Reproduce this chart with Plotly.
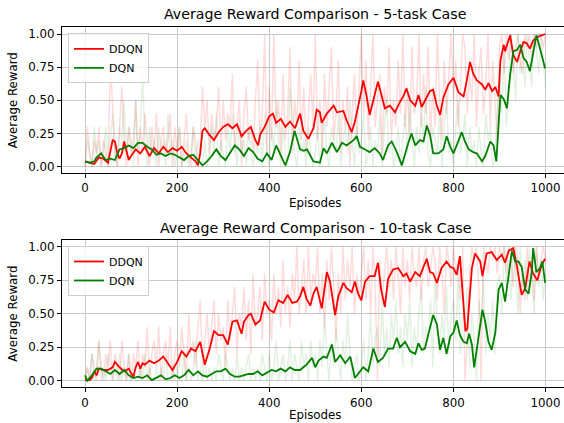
import plotly.graph_objects as go

# ---- 5-task case: smoothed curves (episode, reward) ----
ddqn5_ep = [0, 10, 20, 30, 40, 50, 55, 60, 65, 70, 75, 80, 85, 90, 95, 100, 110, 120, 130, 140,
            150, 160, 170, 180, 190, 200, 210, 220, 230, 240, 245, 250, 255, 260, 270, 280, 290, 300,
            310, 320, 330, 340, 350, 360, 370, 376, 380, 390, 400, 408, 415, 425, 435, 445, 456, 467,
            474, 485, 496, 503, 510, 514, 525, 540, 547, 561, 568, 579, 586, 593, 600, 604, 611, 618,
            625, 636, 643, 651, 662, 673, 684, 691, 698, 706, 717, 724, 731, 742, 749, 756, 764, 771,
            778, 789, 800, 811, 822, 829, 836, 843, 851, 862, 869, 876, 884, 891, 898, 902, 909, 912,
            923, 930, 938, 945, 952, 959, 966, 973, 984, 999]
ddqn5_val = [0.04, 0.03, 0.02, 0.07, 0.06, 0.03, 0.12, 0.2, 0.19, 0.1, 0.06, 0.1, 0.19, 0.12, 0.05, 0.08,
             0.13, 0.1, 0.15, 0.08, 0.14, 0.1, 0.15, 0.11, 0.14, 0.12, 0.15, 0.1, 0.07, 0.04, 0.01, 0.1,
             0.27, 0.29, 0.24, 0.2, 0.26, 0.3, 0.32, 0.29, 0.32, 0.23, 0.27, 0.3, 0.2, 0.16, 0.24, 0.3,
             0.38, 0.4, 0.33, 0.36, 0.3, 0.34, 0.29, 0.4, 0.27, 0.21, 0.29, 0.43, 0.41, 0.33, 0.4, 0.46,
             0.41, 0.42, 0.35, 0.26, 0.34, 0.45, 0.57, 0.65, 0.54, 0.39, 0.49, 0.64, 0.55, 0.44, 0.46,
             0.41, 0.49, 0.53, 0.59, 0.5, 0.46, 0.54, 0.45, 0.53, 0.57, 0.58, 0.46, 0.39, 0.52, 0.62,
             0.67, 0.56, 0.53, 0.65, 0.79, 0.7, 0.65, 0.62, 0.58, 0.63, 0.57, 0.6, 0.53, 0.8, 0.92, 0.87,
             0.99, 0.84, 0.79, 0.87, 0.94, 0.93, 0.89, 0.95, 0.98, 1.0]

dqn5_ep = [0, 10, 20, 25, 35, 45, 55, 65, 75, 85, 95, 105, 115, 125, 135, 145, 155, 165, 175, 185,
           195, 205, 215, 225, 235, 245, 255, 265, 275, 285, 295, 305, 315, 325, 335, 345, 355, 365,
           375, 385, 395, 405, 415, 425, 435, 445, 455, 467, 475, 482, 489, 496, 510, 518, 525, 536,
           547, 558, 568, 583, 590, 597, 608, 618, 629, 640, 647, 658, 666, 677, 688, 695, 702, 709,
           717, 727, 735, 742, 749, 756, 767, 778, 785, 793, 800, 807, 818, 825, 833, 843, 851, 862,
           869, 880, 887, 893, 898, 902, 909, 916, 923, 930, 938, 945, 952, 959, 966, 973, 980, 988, 999]
dqn5_val = [0.04, 0.03, 0.04, 0.07, 0.1, 0.05, 0.06, 0.05, 0.13, 0.14, 0.16, 0.14, 0.18, 0.18, 0.15,
            0.13, 0.09, 0.1, 0.08, 0.1, 0.09, 0.07, 0.05, 0.08, 0.09, 0.05, 0.01, 0.04, 0.08, 0.13, 0.08,
            0.05, 0.1, 0.16, 0.13, 0.08, 0.14, 0.11, 0.06, 0.04, 0.1, 0.05, 0.16, 0.09, 0.01, 0.11, 0.27,
            0.13, 0.12, 0.13, 0.08, 0.04, 0.03, 0.14, 0.1, 0.18, 0.11, 0.18, 0.16, 0.2, 0.23, 0.15, 0.13,
            0.11, 0.14, 0.1, 0.05, 0.16, 0.19, 0.11, 0.01, 0.1, 0.18, 0.25, 0.16, 0.2, 0.19, 0.31, 0.24,
            0.1, 0.1, 0.13, 0.23, 0.15, 0.1, 0.16, 0.26, 0.19, 0.13, 0.11, 0.1, 0.04, 0.08, 0.19, 0.16,
            0.04, 0.36, 0.54, 0.51, 0.44, 0.69, 0.87, 0.88, 0.92, 0.82, 0.79, 0.72, 0.87, 0.99, 0.89, 0.74]

# ---- 5-task case: raw episode rewards, one value every 5 episodes ----
ddqn5_raw = [0.0, 0.3, 0.1, 0.0, 0.2, 0.1, 0.3, 0.0, 0.2, 0.1, 0.0, 0.8, 0.4, 0.1, 0.0, 0.3, 0.6, 0.2, 0.0, 0.3,
             0.1, 0.2, 0.5, 0.0, 0.3, 0.1, 0.4, 0.2, 0.0, 0.3, 0.1, 0.4, 0.0, 0.2, 0.3, 0.1, 0.2, 0.4, 0.0, 0.3,
             0.1, 0.3, 0.0, 0.2, 0.4, 0.1, 0.0, 0.3, 0.2, 0.0, 0.1, 0.6, 0.3, 0.5, 0.1, 0.4, 0.2, 0.3, 0.6, 0.1,
             0.5, 0.2, 0.4, 0.3, 0.7, 0.1, 0.3, 0.5, 0.0, 0.4, 0.6, 0.2, 0.3, 0.1, 0.5, 0.8, 0.2, 0.4, 1.0, 0.1,
             0.6, 0.2, 1.0, 0.3, 0.5, 0.1, 0.7, 0.2, 0.4, 0.9, 0.1, 0.5, 0.3, 0.8, 0.2, 0.6, 0.1, 0.4, 0.7, 0.3,
             1.0, 0.2, 0.5, 0.1, 0.7, 0.3, 0.6, 0.9, 0.2, 0.4, 0.8, 0.1, 0.5, 0.3, 0.6, 0.0, 0.4, 0.7, 0.2, 0.6,
             1.0, 0.4, 0.8, 0.2, 0.6, 1.0, 0.3, 0.5, 0.7, 0.1, 0.6, 0.4, 0.9, 0.2, 0.5, 0.3, 0.8, 0.4, 1.0, 0.3,
             0.6, 0.2, 0.9, 0.4, 0.5, 1.0, 0.3, 0.7, 0.4, 0.9, 0.2, 0.6, 0.3, 1.0, 0.5, 0.2, 0.8, 0.4, 0.7, 1.0,
             0.5, 0.8, 0.3, 0.6, 1.0, 0.9, 0.4, 0.7, 0.5, 1.0, 0.3, 0.7, 0.9, 0.4, 0.6, 1.0, 0.3, 0.8, 0.5, 0.2,
             0.9, 1.0, 0.7, 1.0, 0.8, 1.0, 0.7, 0.9, 1.0, 0.8, 0.7, 1.0, 0.9, 1.0, 0.8, 1.0, 0.9, 1.0, 1.0, 0.9,
             1.0]
dqn5_raw = [0.0, 0.2, 0.1, 0.0, 0.3, 0.1, 0.2, 0.0, 0.1, 0.3, 0.0, 0.2, 0.4, 0.1, 0.0, 0.3, 0.2, 0.5, 0.1, 0.3,
            0.2, 0.0, 0.5, 0.1, 0.3, 0.7, 0.2, 0.0, 0.3, 0.1, 0.2, 0.0, 0.3, 0.1, 0.2, 0.0, 0.4, 0.1, 0.2, 0.0,
            0.1, 0.3, 0.0, 0.1, 0.2, 0.0, 0.1, 0.3, 0.0, 0.2, 0.1, 0.0, 0.2, 0.0, 0.1, 0.3, 0.1, 0.4, 0.0, 0.2,
            0.1, 0.0, 0.3, 0.1, 0.4, 0.2, 0.0, 0.3, 0.1, 0.2, 0.0, 0.3, 0.1, 0.0, 0.2, 0.1, 0.3, 0.0, 0.4, 0.1,
            0.0, 0.3, 0.1, 0.5, 0.2, 0.0, 0.3, 0.1, 0.0, 0.6, 0.4, 0.1, 0.0, 0.3, 0.1, 0.2, 0.0, 0.3, 0.1, 0.0,
            0.1, 0.3, 0.0, 0.2, 0.4, 0.1, 0.0, 0.3, 0.2, 0.1, 0.4, 0.0, 0.2, 0.3, 0.1, 0.5, 0.2, 0.0, 0.3, 0.1,
            0.2, 0.4, 0.0, 0.1, 0.3, 0.0, 0.2, 0.1, 0.4, 0.0, 0.3, 0.5, 0.1, 0.2, 0.0, 0.1, 0.3, 0.0, 0.2, 0.4,
            0.1, 0.5, 0.2, 0.0, 0.3, 0.1, 0.4, 0.2, 0.6, 0.1, 0.0, 0.3, 0.2, 0.1, 0.4, 0.0, 0.3, 0.5, 0.1, 0.2,
            0.0, 0.3, 0.5, 0.1, 0.2, 0.4, 0.0, 0.3, 0.1, 0.2, 0.0, 0.3, 0.1, 0.0, 0.4, 0.2, 0.3, 0.0, 0.1, 0.4,
            0.7, 0.4, 0.9, 0.3, 0.6, 1.0, 0.8, 0.5, 1.0, 0.7, 0.9, 0.6, 1.0, 0.8, 0.6, 1.0, 0.9, 0.7, 1.0, 0.8,
            0.6]

# ---- 10-task case: smoothed curves ----
ddqn10_ep = [0, 10, 15, 20, 25, 30, 40, 50, 55, 60, 65, 75, 85, 95, 100, 105, 110, 115, 120, 125, 130,
             140, 150, 160, 170, 180, 190, 200, 210, 220, 230, 240, 250, 260, 270, 280, 290, 300, 310,
             320, 330, 340, 345, 355, 360, 370, 380, 390, 400, 410, 420, 430, 440, 450, 460, 467, 474,
             481, 489, 496, 503, 514, 525, 532, 543, 550, 561, 568, 579, 586, 593, 600, 608, 618, 629,
             636, 643, 651, 658, 669, 680, 691, 698, 706, 717, 727, 735, 742, 749, 756, 764, 774, 785,
             793, 800, 807, 814, 822, 826, 830, 836, 840, 847, 858, 863, 872, 883, 894, 905, 912, 920,
             930, 938, 948, 956, 965, 973, 982, 991, 999]
ddqn10_val = [0.005, 0.005, 0.02, 0.07, 0.04, 0.09, 0.08, 0.08, 0.09, 0.1, 0.14, 0.1, 0.07, 0.09, 0.055,
              0.03, 0.1, 0.14, 0.09, 0.13, 0.12, 0.15, 0.13, 0.15, 0.18, 0.13, 0.08, 0.14, 0.22, 0.18,
              0.24, 0.22, 0.29, 0.12, 0.23, 0.37, 0.34, 0.34, 0.27, 0.44, 0.45, 0.35, 0.44, 0.49, 0.5,
              0.42, 0.45, 0.59, 0.53, 0.51, 0.6, 0.58, 0.64, 0.58, 0.59, 0.63, 0.7, 0.61, 0.56, 0.65, 0.7,
              0.54, 0.81, 0.74, 0.49, 0.63, 0.73, 0.69, 0.66, 0.74, 0.65, 0.6, 0.74, 0.78, 0.78, 0.88,
              0.68, 0.55, 0.76, 0.83, 0.84, 0.78, 0.8, 0.74, 0.81, 0.78, 0.85, 0.91, 0.81, 0.8, 0.73,
              0.84, 0.89, 0.85, 0.84, 0.79, 0.93, 0.59, 0.37, 0.39, 0.69, 0.84, 0.95, 0.89, 0.78, 0.95,
              0.96, 0.9, 0.94, 0.88, 0.97, 0.99, 0.85, 0.64, 0.69, 0.89, 0.8, 0.75, 0.86, 0.91]

dqn10_ep = [0, 5, 15, 25, 35, 45, 55, 65, 75, 85, 95, 105, 115, 125, 135, 145, 155, 165, 175, 185, 195,
            205, 215, 225, 235, 245, 255, 265, 275, 285, 295, 305, 315, 325, 335, 345, 355, 365, 375,
            385, 395, 405, 415, 425, 435, 445, 455, 467, 474, 481, 493, 500, 507, 518, 525, 536, 543,
            554, 565, 576, 586, 593, 604, 615, 626, 636, 647, 658, 669, 677, 684, 695, 706, 717, 724,
            731, 738, 745, 756, 764, 771, 778, 785, 793, 800, 807, 814, 822, 829, 834, 840, 845, 851,
            858, 863, 869, 876, 883, 891, 898, 905, 912, 920, 927, 934, 941, 948, 956, 963, 970, 973,
            980, 988, 993, 999]
dqn10_val = [0.04, 0.0, 0.04, 0.09, 0.09, 0.07, 0.05, 0.08, 0.05, 0.08, 0.04, 0.02, 0.03, 0.02, 0.04,
             0.005, 0.02, 0.04, 0.01, 0.02, 0.04, 0.02, 0.04, 0.08, 0.04, 0.07, 0.04, 0.03, 0.05, 0.07,
             0.07, 0.09, 0.05, 0.03, 0.03, 0.04, 0.05, 0.05, 0.07, 0.04, 0.06, 0.08, 0.07, 0.09, 0.07,
             0.1, 0.08, 0.08, 0.1, 0.12, 0.17, 0.1, 0.15, 0.18, 0.17, 0.27, 0.14, 0.19, 0.13, 0.18, 0.02,
             0.05, 0.1, 0.07, 0.24, 0.14, 0.17, 0.24, 0.24, 0.32, 0.25, 0.29, 0.22, 0.2, 0.28, 0.23, 0.24,
             0.34, 0.49, 0.42, 0.23, 0.32, 0.2, 0.33, 0.36, 0.45, 0.34, 0.29, 0.28, 0.35, 0.27, 0.1, 0.25,
             0.39, 0.53, 0.44, 0.29, 0.23, 0.36, 0.68, 0.73, 0.59, 0.79, 0.97, 0.89, 0.89, 0.85, 0.68,
             0.65, 0.81, 0.99, 0.81, 0.84, 0.89, 0.73]

# ---- 10-task case: raw episode rewards, one value every 5 episodes ----
ddqn10_raw = [0.0, 0.1, 0.0, 0.2, 0.1, 0.0, 0.3, 0.1, 0.0, 0.2, 0.1, 0.3, 0.0, 0.2, 0.1, 0.0, 0.3, 0.1, 0.0, 0.2,
              0.0, 0.2, 0.1, 0.3, 0.0, 0.2, 0.1, 0.4, 0.0, 0.2, 0.3, 0.1, 0.4, 0.0, 0.2, 0.3, 0.1, 0.4, 0.0, 0.2,
              0.3, 0.1, 0.4, 0.2, 0.0, 0.5, 0.2, 0.3, 0.1, 0.4, 0.6, 0.1, 0.3, 0.5, 0.2, 0.4, 0.6, 0.2, 0.5, 0.3,
              0.4, 0.1, 0.6, 0.3, 0.5, 0.7, 0.2, 0.5, 0.4, 0.7, 0.3, 0.6, 0.2, 0.8, 0.4, 0.5, 0.7, 0.3, 0.8, 0.5,
              0.6, 0.3, 0.8, 0.5, 0.7, 0.4, 0.9, 0.5, 0.7, 0.4, 0.8, 0.6, 1.0, 0.5, 0.7, 0.9, 0.5, 1.0, 0.6, 0.8,
              0.7, 1.0, 0.5, 0.8, 0.4, 0.9, 0.6, 1.0, 0.7, 0.3, 0.8, 0.5, 1.0, 0.6, 0.9, 0.7, 1.0, 0.5, 0.8, 0.6,
              0.8, 1.0, 0.6, 0.9, 0.5, 1.0, 0.7, 0.0, 0.9, 0.6, 0.8, 1.0, 0.7, 0.9, 0.6, 1.0, 0.8, 0.5, 1.0, 0.7,
              0.9, 0.6, 1.0, 0.8, 0.7, 1.0, 0.6, 0.9, 1.0, 0.7, 0.8, 1.0, 0.9, 0.6, 1.0, 0.8, 0.5, 1.0, 0.9, 0.7,
              1.0, 0.8, 0.9, 0.6, 1.0, 0.0, 0.3, 0.8, 1.0, 0.9, 1.0, 0.7, 0.0, 1.0, 0.9, 0.8, 1.0, 0.9, 1.0, 0.8,
              1.0, 0.9, 1.0, 0.8, 1.0, 0.9, 0.7, 1.0, 0.9, 0.5, 0.8, 0.6, 1.0, 0.7, 0.9, 0.6, 1.0, 0.8, 0.9, 1.0,
              0.9]
dqn10_raw = [0.0, 0.1, 0.0, 0.2, 0.0, 0.1, 0.3, 0.0, 0.1, 0.0, 0.2, 0.1, 0.0, 0.1, 0.0, 0.2, 0.0, 0.1, 0.0, 0.2,
             0.0, 0.1, 0.0, 0.0, 0.1, 0.0, 0.2, 0.0, 0.1, 0.0, 0.0, 0.1, 0.0, 0.1, 0.0, 0.2, 0.0, 0.0, 0.1, 0.0,
             0.1, 0.0, 0.0, 0.2, 0.0, 0.1, 0.0, 0.1, 0.3, 0.0, 0.1, 0.0, 0.2, 0.0, 0.1, 0.0, 0.1, 0.0, 0.2, 0.1,
             0.0, 0.2, 0.1, 0.0, 0.1, 0.0, 0.2, 0.0, 0.1, 0.0, 0.1, 0.2, 0.0, 0.1, 0.0, 0.1, 0.0, 0.2, 0.1, 0.0,
             0.2, 0.0, 0.1, 0.3, 0.0, 0.1, 0.2, 0.0, 0.1, 0.3, 0.0, 0.2, 0.1, 0.0, 0.3, 0.1, 0.2, 0.0, 0.3, 0.1,
             0.2, 0.0, 0.3, 0.1, 0.5, 0.2, 0.0, 0.3, 0.1, 0.4, 0.2, 0.0, 0.3, 0.1, 0.5, 0.2, 0.0, 0.1, 0.2, 0.0,
             0.1, 0.3, 0.0, 0.2, 0.5, 0.1, 0.3, 0.4, 0.1, 0.6, 0.2, 0.4, 0.1, 0.5, 0.3, 0.6, 0.2, 0.4, 0.1, 0.5,
             0.3, 0.6, 0.1, 0.4, 0.2, 0.5, 0.7, 0.2, 0.4, 0.3, 0.6, 0.1, 0.8, 0.4, 0.2, 0.5, 0.3, 0.7, 0.2, 0.5,
             0.6, 0.3, 0.8, 0.2, 0.5, 0.4, 0.7, 0.1, 0.5, 0.3, 0.0, 0.6, 0.4, 0.8, 0.2, 0.5, 0.3, 0.6, 0.2, 0.7,
             0.8, 0.5, 1.0, 0.7, 0.9, 0.6, 1.0, 0.8, 0.5, 1.0, 0.7, 0.9, 0.6, 1.0, 0.8, 0.5, 1.0, 0.7, 0.9, 0.6,
             0.8]

titles = ['Average Reward Comparison - 5-task Case', 'Average Reward Comparison - 10-task Case']
x_ticks = [0, 200, 400, 600, 800, 1000]
y_ticks = [0, 0.25, 0.5, 0.75, 1.0]

RED = '#ff0000'
GREEN = '#008000'
FONT = 'DejaVu Sans'
W, H = 564, 423
L = 62  # left spine position in px

fig = go.Figure()


def raw_x(vals):
    return list(range(0, 5 * len(vals), 5))


panels = [
    (ddqn5_raw, dqn5_raw, ddqn5_ep, ddqn5_val, dqn5_ep, dqn5_val, 'x', 'y', 'legend'),
    (ddqn10_raw, dqn10_raw, ddqn10_ep, ddqn10_val, dqn10_ep, dqn10_val, 'x2', 'y2', 'legend2'),
]
for r_raw, g_raw, r_ep, r_val, g_ep, g_val, xa, ya, leg in panels:
    # faint raw rewards
    fig.add_trace(go.Scatter(x=raw_x(r_raw), y=r_raw, mode='lines', xaxis=xa, yaxis=ya,
                             line=dict(color='rgba(255,0,0,0.14)', width=1.5), showlegend=False,
                             hoverinfo='skip'))
    fig.add_trace(go.Scatter(x=raw_x(g_raw), y=g_raw, mode='lines', xaxis=xa, yaxis=ya,
                             line=dict(color='rgba(0,128,0,0.11)', width=1.5), showlegend=False,
                             hoverinfo='skip'))
    # smoothed curves
    fig.add_trace(go.Scatter(x=r_ep, y=r_val, mode='lines', name='DDQN', xaxis=xa, yaxis=ya,
                             line=dict(color=RED, width=1.8), legend=leg))
    fig.add_trace(go.Scatter(x=g_ep, y=g_val, mode='lines', name='DQN', xaxis=xa, yaxis=ya,
                             line=dict(color=GREEN, width=1.8), legend=leg))


def py(pix):
    return 1 - pix / H


def px_(pix):
    return (pix - L) / (W - L)


axis_common = dict(
    showgrid=True, gridcolor='#c8c8c8', gridwidth=0.8, zeroline=False,
    showline=True, linecolor='black', linewidth=1,
    ticks='outside', ticklen=4, tickwidth=1, tickcolor='black',
    tickfont=dict(family=FONT, size=11.8, color='black'),
)
x_common = dict(axis_common, range=[-50, 1040], tickvals=x_ticks, mirror=True)
y_common = dict(axis_common, range=[-0.05, 1.05], tickvals=y_ticks, tickformat='.2f')

legend_common = dict(
    bgcolor='rgba(255,255,255,0.8)', bordercolor='#cccccc', borderwidth=1,
    font=dict(family=FONT, size=11, color='black'),
    xanchor='left', yanchor='top', itemwidth=30, traceorder='normal',
)

fig.update_layout(
    width=W, height=H,
    margin=dict(l=L, r=0, t=0, b=0),
    paper_bgcolor='white', plot_bgcolor='white',
    xaxis=dict(x_common, domain=[0, 1], anchor='y'),
    yaxis=dict(y_common, domain=[py(173.3), py(27.4)], anchor='x'),
    xaxis2=dict(x_common, domain=[0, 1], anchor='y2'),
    yaxis2=dict(y_common, domain=[py(387.4), py(240)], anchor='x2'),
    legend=dict(legend_common, x=px_(68), y=py(33.3)),
    legend2=dict(legend_common, x=px_(68), y=py(246)),
)

# titles and axis labels
for text, x, y, size, angle in [
    (titles[0], px_(315), py(14), 14.2, 0),
    (titles[1], px_(315), py(228), 14.2, 0),
    ('Episodes', px_(315), py(203), 11.8, 0),
    ('Episodes', px_(315), py(415), 11.8, 0),
    ('Average Reward', px_(13), py(100.3), 11.8, -90),
    ('Average Reward', px_(13), py(313.7), 11.8, -90),
]:
    fig.add_annotation(text=text, x=x, y=y, xref='paper', yref='paper', showarrow=False,
                       textangle=angle, xanchor='center', yanchor='middle',
                       font=dict(family=FONT, size=size, color='black'))

# the page body has a default 8px margin; drop it so the figure sits at the window corner
fig.write_html('out.html', config={'displayModeBar': False},
               post_script="document.body.style.margin='0';")
